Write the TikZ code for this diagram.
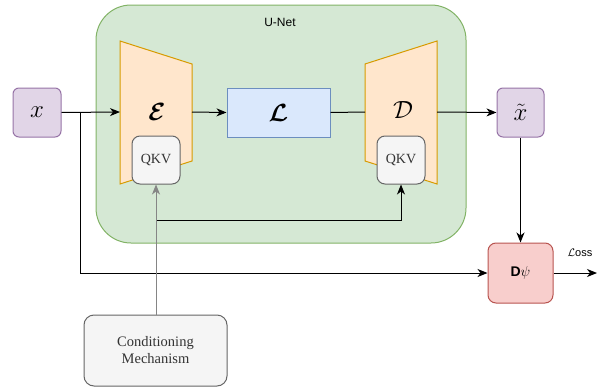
\documentclass[tikz,border=0pt]{standalone}
\usepackage{amsmath,bm}
\usepackage{fontspec}
\setmainfont{Liberation Serif}
\setsansfont{Liberation Sans}
\usetikzlibrary{arrows.meta}

\definecolor{unetF}{HTML}{D5E8D4}
\definecolor{unetS}{HTML}{82B366}
\definecolor{codeF}{HTML}{FFE6CC}
\definecolor{codeS}{HTML}{D79B00}
\definecolor{latF}{HTML}{DAE8FC}
\definecolor{latS}{HTML}{6C8EBF}
\definecolor{imgF}{HTML}{E1D5E7}
\definecolor{imgS}{HTML}{9673A6}
\definecolor{qkvF}{HTML}{F5F5F5}
\definecolor{qkvS}{HTML}{666666}
\definecolor{qkvT}{HTML}{333333}
\definecolor{discF}{HTML}{F8CECC}
\definecolor{discS}{HTML}{B85450}

\tikzset{
  box/.style={draw, line width=1pt, inner sep=0pt, anchor=center},
  imgbox/.style={box, draw=imgS, fill=imgF, rounded corners=6pt, minimum width=48pt, minimum height=49pt},
  latbox/.style={box, draw=latS, fill=latF, minimum width=103pt, minimum height=49pt},
  qkvbox/.style={box, draw=qkvS, fill=qkvF, text=qkvT, rounded corners=8pt, minimum width=48pt, minimum height=48pt, font=\fontsize{14}{16}\selectfont},
  codec/.style={draw=codeS, fill=codeF, line width=1pt},
  bigmath/.style={font=\fontsize{25}{28}\selectfont},
  tip/.style={-{Stealth[length=10pt,width=8pt,inset=3pt]}},
  arr/.style={draw=black, line width=1pt, tip},
  garr/.style={draw=qkvS!80, line width=1pt, tip},
  plain/.style={draw=black, line width=1pt},
}

\begin{document}
\begin{tikzpicture}[x=1pt,y=-1pt]
\useasboundingbox (0,0) rectangle (597,388);

% U-Net container
\node[box, draw=unetS, fill=unetF, rounded corners=35pt, minimum width=370pt, minimum height=238pt] (unet) at (281,124) {};
\node[font=\sffamily\fontsize{12}{14}\selectfont] (unetlbl) at (280,22) {U-Net};

% encoder and decoder
\draw[codec] (120,41) -- (192,64) -- (192,161) -- (120,184) -- cycle;
\draw[codec] (365,64) -- (437,41) -- (437,184) -- (365,161) -- cycle;
\coordinate (encW) at (120,112);
\coordinate (encE) at (192,112);
\coordinate (decW) at (365,112);
\coordinate (decE) at (437,112);
\node[bigmath] (enc) at (157,112) {$\bm{\mathcal{E}}$};
\node[bigmath] (dec) at (403,110) {$\mathcal{D}$};

% latent
\node[latbox, bigmath] (lat) at (278.5,112.5) {$\bm{\mathcal{L}}$};

% inputs / outputs
\node[imgbox, bigmath] (x) at (37,112.5) {$x$};
\node[imgbox, bigmath, minimum width=47pt] (xt) at (520.5,112.5) {$\tilde{x}$};

% attention blocks
\node[qkvbox] (qkv1) at (156,160) {QKV};
\node[qkvbox] (qkv2) at (401,160) {QKV};

% discriminator
\node[box, draw=discS, fill=discF, rounded corners=8pt, minimum width=65pt, minimum height=60pt,
      font=\sffamily\fontsize{14}{16}\selectfont] (disc) at (520.5,273) {\textbf{D}$\psi$};

% conditioning
\node[box, draw=qkvS, fill=qkvF, text=qkvT, rounded corners=10pt, minimum width=143pt, minimum height=71pt,
      align=center, font=\fontsize{14.5}{17}\selectfont] (cond) at (155.5,350.5) {Conditioning\\Mechanism};

% connectors
\coordinate (br) at (80,112);
\coordinate (tap) at (156,220);
\coordinate (out) at (597,273);
\draw[arr] (x.east) -- (encW);
\draw[arr] (br) |- (disc.west);
\draw[arr] (encE) -- (lat.west);
\draw[plain] (lat.east) -- (decW);
\draw[arr] (decE) -- (xt.west);
\draw[arr] (xt.south) -- (disc.north);
\draw[arr] (disc.east) -- (out);
\node[font=\sffamily\fontsize{11}{13}\selectfont] (loss) at (580,253) {$\mathcal{L}$oss};
\draw[arr] (tap) -| (qkv2.south);
\draw[garr] (cond.north -| qkv1.south) -- (qkv1.south);
\end{tikzpicture}
\end{document}
